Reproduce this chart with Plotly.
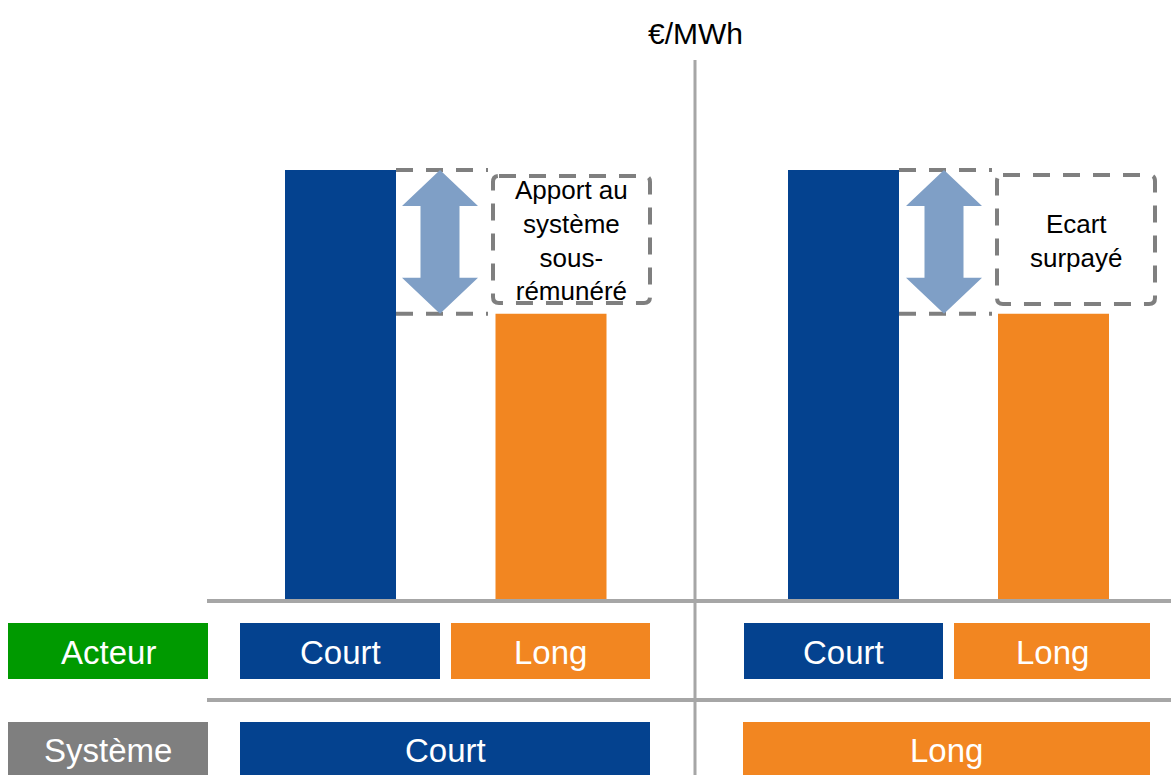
import plotly.graph_objects as go

# --- data -------------------------------------------------------------
acteur = ["Court", "Long", "Court", "Long"]          # position of the actor
prix_eur_mwh = [75, 50, 75, 50]                       # imbalance price paid
systeme = ["Court", "Long"]                           # position of the system
row_labels = ["Acteur", "Système"]
gap_labels = ["Apport au<br>système<br>sous-<br>rémunéré", "Ecart<br>surpayé"]
unit_label = "€/MWh"

# --- layout constants -------------------------------------------------
W, H = 1171, 775
BLUE, ORANGE, GREEN, GREY = "#04428f", "#f28621", "#009a00", "#7f7f7f"
LINE = "#a6a6a6"
ARROW = "#7f9fc6"
FONT = "Liberation Sans, Arial, sans-serif"

base_px = 601                 # pixel row of the zero line
ppu = 431 / 75                # pixels per €/MWh
y_range = [-(H - base_px) / ppu, base_px / ppu]

bar_x = [340.5, 551, 843.5, 1053.5]
bar_w = 111
colors = {"Court": BLUE, "Long": ORANGE}


def py(px_row):
    """pixel row -> value on the price axis"""
    return (base_px - px_row) / ppu


def pp(px_row):
    """pixel row -> paper y"""
    return 1 - px_row / H


fig = go.Figure()
fig.add_trace(go.Bar(
    x=bar_x, y=prix_eur_mwh, width=[bar_w] * 4,
    marker=dict(color=[colors[a] for a in acteur], line=dict(width=0)),
    hoverinfo="skip", showlegend=False,
))

shapes = []
annotations = []

# axes lines
shapes.append(dict(type="line", xref="x", yref="paper", x0=695, x1=695,
                   y0=pp(60), y1=0, line=dict(color=LINE, width=3)))
for row in (601, 700):
    shapes.append(dict(type="line", xref="x", yref="paper", x0=207, x1=W,
                       y0=pp(row), y1=pp(row), line=dict(color=LINE, width=4)))

annotations.append(dict(text=unit_label, x=695, y=pp(33), xref="x", yref="paper",
                        xanchor="center", yanchor="middle", showarrow=False,
                        font=dict(family=FONT, size=30, color="#000000")))

# gap arrows, dashed guides and callout boxes
panel_specs = [
    dict(right=396, guide_end=488, ax=440, box=(493, 650, 176, 303), txt=571),
    dict(right=899, guide_end=992, ax=944, box=(997, 1155, 175, 304), txt=1076),
]
DASH = "17px,13px"
for k, spec in enumerate(panel_specs):
    hi, lo = prix_eur_mwh[2 * k], prix_eur_mwh[2 * k + 1]
    for v in (hi, lo):
        shapes.append(dict(type="line", xref="x", yref="y", x0=spec["right"],
                           x1=spec["guide_end"], y0=v, y1=v,
                           line=dict(color=GREY, width=4, dash=DASH)))
    cx = spec["ax"]
    hw, sw, hl = 38, 19.5, 36 / ppu
    pts = [
        (cx, hi), (cx + hw, hi - hl), (cx + sw, hi - hl), (cx + sw, lo + hl),
        (cx + hw, lo + hl), (cx, lo), (cx - hw, lo + hl), (cx - sw, lo + hl),
        (cx - sw, hi - hl), (cx - hw, hi - hl),
    ]
    path = "M " + " L ".join(f"{x},{y}" for x, y in pts) + " Z"
    shapes.append(dict(type="path", xref="x", yref="y", path=path,
                       fillcolor=ARROW, line=dict(width=0)))
    x0, x1, t, b = spec["box"]
    r = 6
    yt, yb, rr = py(t), py(b), r / ppu
    bpath = (f"M {x0 + r},{yt} L {x1 - r},{yt} Q {x1},{yt} {x1},{yt - rr} "
             f"L {x1},{yb + rr} Q {x1},{yb} {x1 - r},{yb} L {x0 + r},{yb} "
             f"Q {x0},{yb} {x0},{yb + rr} L {x0},{yt - rr} Q {x0},{yt} {x0 + r},{yt} Z")
    shapes.append(dict(type="path", xref="x", yref="y", path=bpath,
                       line=dict(color=GREY, width=4, dash=DASH)))
    annotations.append(dict(text=gap_labels[k], x=spec["txt"], y=py((t + b) / 2 + 1),
                            xref="x", yref="y", xanchor="center", yanchor="middle",
                            showarrow=False, align="center",
                            font=dict(family=FONT, size=26, color="#000000")))


def label_box(x0, x1, top, bot, color, text):
    shapes.append(dict(type="rect", xref="x", yref="paper", x0=x0, x1=x1,
                       y0=pp(bot), y1=pp(top), fillcolor=color, line=dict(width=0)))
    annotations.append(dict(text=text, x=(x0 + x1) / 2, y=pp((top + bot) / 2 + 1),
                            xref="x", yref="paper", xanchor="center", yanchor="middle",
                            showarrow=False,
                            font=dict(family=FONT, size=33, color="#ffffff")))


# row headers
label_box(8, 208, 623, 679, GREEN, row_labels[0])
label_box(8, 208, 722, 776, GREY, row_labels[1])

# actor row
acteur_boxes = [(240, 440), (451, 650), (744, 943), (954, 1150)]
for (x0, x1), a in zip(acteur_boxes, acteur):
    label_box(x0, x1, 623, 679, colors[a], a)

# system row
systeme_boxes = [(240, 650), (743, 1150)]
for (x0, x1), s in zip(systeme_boxes, systeme):
    label_box(x0, x1, 722, 776, colors[s], s)

fig.update_layout(
    width=W, height=H, margin=dict(l=0, r=0, t=0, b=0),
    paper_bgcolor="#ffffff", plot_bgcolor="#ffffff",
    xaxis=dict(range=[0, W], visible=False, fixedrange=True),
    yaxis=dict(range=y_range, visible=False, fixedrange=True),
    shapes=shapes, annotations=annotations, showlegend=False,
)
fig.write_html("out.html")
